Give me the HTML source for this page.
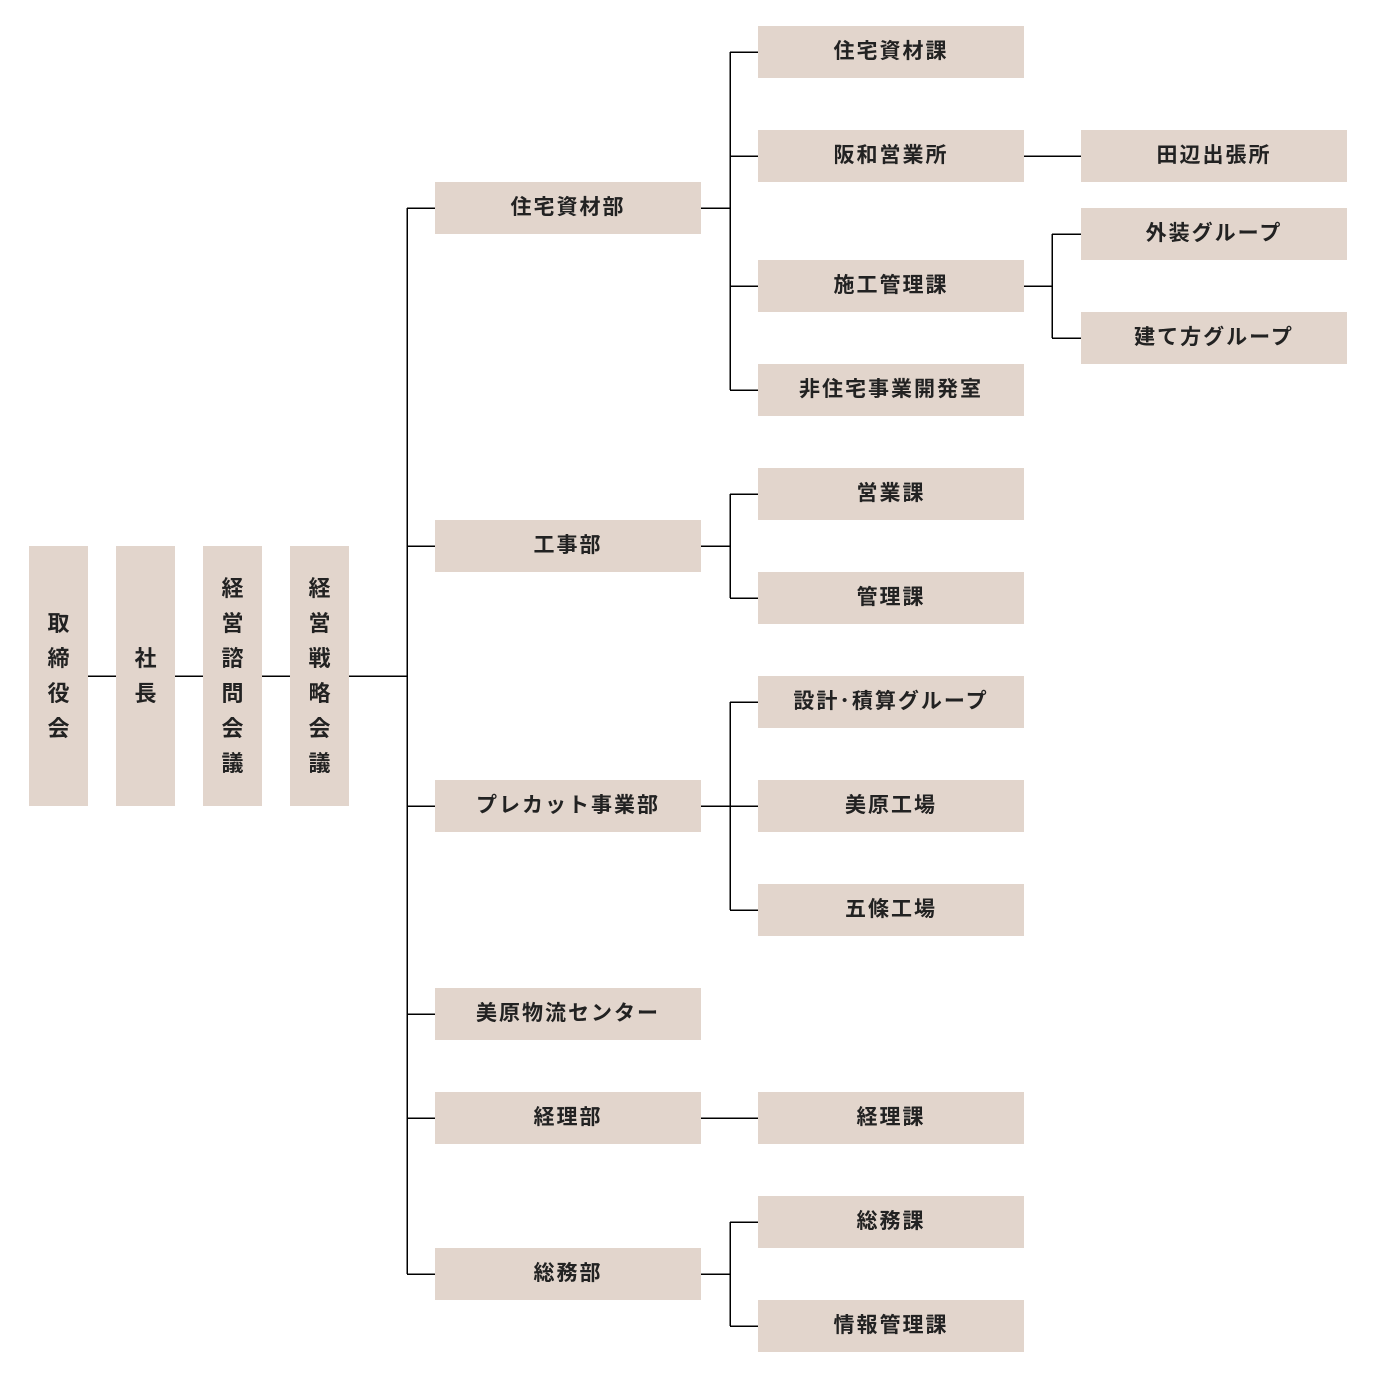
<!DOCTYPE html>
<html><head><meta charset="utf-8"><style>
body{margin:0;width:1376px;height:1379px;background:#fff;position:relative;overflow:hidden;font-family:"Liberation Sans","Noto Sans CJK JP",sans-serif;}
.b{position:absolute;background:#e2d5cc;display:flex;align-items:center;justify-content:center;font-weight:bold;font-size:21px;color:#222;letter-spacing:2px;height:52px;width:266px;box-sizing:border-box;padding-bottom:4px;}
.v{position:absolute;background:#e2d5cc;top:546px;height:260px;width:59px;display:flex;align-items:center;justify-content:center;font-weight:bold;font-size:22px;line-height:35px;color:#222;text-align:center;}
svg{position:absolute;left:0;top:0;}
</style></head><body>
<svg width="1376" height="1379" stroke="#000" stroke-width="1.5" fill="none" shape-rendering="crispEdges">
<path d="M88 676H116M175 676H203M262 676H290M349 676H407"/>
<path d="M407 208V1274M407 208H435M407 546H435M407 806H435M407 1014H435M407 1118H435M407 1274H435"/>
<path d="M701 208H730M730 52V390M730 52H758M730 156H758M730 286H758M730 390H758"/>
<path d="M701 546H730M730 494V598M730 494H758M730 598H758"/>
<path d="M701 806H758M730 702V910M730 702H758M730 910H758"/>
<path d="M701 1118H758"/>
<path d="M701 1274H730M730 1222V1326M730 1222H758M730 1326H758"/>
<path d="M1024 156H1081M1024 286H1052M1052 234V338M1052 234H1081M1052 338H1081"/>
</svg>
<div class="v" style="left:29px">取<br>締<br>役<br>会</div>
<div class="v" style="left:116px">社<br>長</div>
<div class="v" style="left:203px">経<br>営<br>諮<br>問<br>会<br>議</div>
<div class="v" style="left:290px">経<br>営<br>戦<br>略<br>会<br>議</div>
<div class="b" style="left:435px;top:182px">住宅資材部</div>
<div class="b" style="left:435px;top:520px">工事部</div>
<div class="b" style="left:435px;top:780px">プレカット事業部</div>
<div class="b" style="left:435px;top:988px">美原物流センター</div>
<div class="b" style="left:435px;top:1092px">経理部</div>
<div class="b" style="left:435px;top:1248px">総務部</div>
<div class="b" style="left:758px;top:26px">住宅資材課</div>
<div class="b" style="left:758px;top:130px">阪和営業所</div>
<div class="b" style="left:758px;top:260px">施工管理課</div>
<div class="b" style="left:758px;top:364px">非住宅事業開発室</div>
<div class="b" style="left:758px;top:468px">営業課</div>
<div class="b" style="left:758px;top:572px">管理課</div>
<div class="b" style="left:758px;top:676px">設計･積算グループ</div>
<div class="b" style="left:758px;top:780px">美原工場</div>
<div class="b" style="left:758px;top:884px">五條工場</div>
<div class="b" style="left:758px;top:1092px">経理課</div>
<div class="b" style="left:758px;top:1196px">総務課</div>
<div class="b" style="left:758px;top:1300px">情報管理課</div>
<div class="b" style="left:1081px;top:130px">田辺出張所</div>
<div class="b" style="left:1081px;top:208px">外装グループ</div>
<div class="b" style="left:1081px;top:312px">建て方グループ</div>
</body></html>
